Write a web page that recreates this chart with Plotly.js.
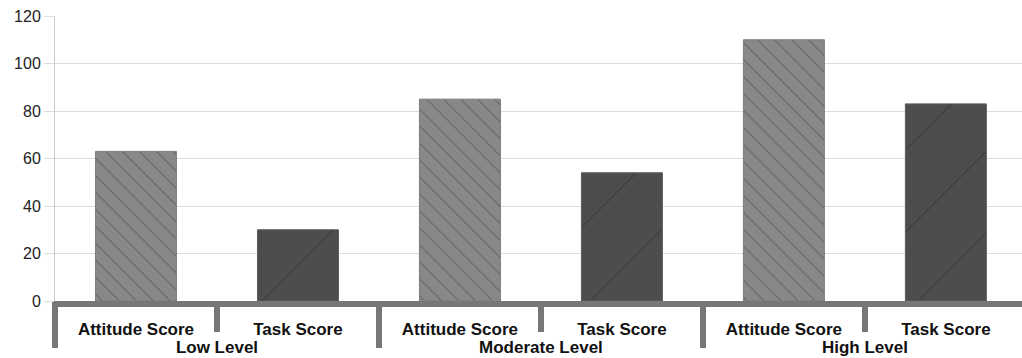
<!DOCTYPE html>
<html>
<head>
<meta charset="utf-8">
<script src="https://cdn.plot.ly/plotly-3.0.1.min.js"></script>
<style>
  html, body { margin: 0; padding: 0; background: #fff; }
  #chart { width: 1022px; height: 358px; }
</style>
</head>
<body>
<div id="chart"></div>
<script>
// Groups and the two scores shown inside each group
const levels = ["Low Level", "Moderate Level", "High Level"];
const metrics = ["Attitude Score", "Task Score"];
const attitudeScores = [63, 85, 110];
const taskScores = [30, 54, 83];
const yTicks = [0, 20, 40, 60, 80, 100, 120];

// Slot index of each bar along the x axis: one slot per metric inside each level
const n = metrics.length;
const slot = (levelIdx, metricIdx) => levelIdx * n + metricIdx;
const attitudeSlots = levels.map((_, i) => slot(i, 0));
const taskSlots = levels.map((_, i) => slot(i, 1));
const subTickVals = [], subTickText = [];
levels.forEach((_, i) => metrics.forEach((m, j) => { subTickVals.push(slot(i, j)); subTickText.push(m); }));
const groupCenters = levels.map((_, i) => slot(i, 0) + (n - 1) / 2);
const groupEdges = levels.map((_, i) => slot(i, 0) - 0.5).concat([levels.length * n - 0.5]);
const xRange = [-0.5, 5.47];

const labelFont = { size: 17, family: "Liberation Sans, Arial, sans-serif", color: "#111", weight: "bold" };

const attitudeTrace = {
  type: "bar",
  name: metrics[0],
  x: attitudeSlots,
  y: attitudeScores,
  width: 0.5,
  marker: {
    color: "#888888",
    line: { width: 1, color: "#7d7d7d" },
    pattern: { shape: "\\", size: 12, solidity: 0.08, fgcolor: "#555555", bgcolor: "#888888", fillmode: "replace" }
  },
  hoverinfo: "y"
};

const taskTrace = {
  type: "bar",
  name: metrics[1],
  x: taskSlots,
  y: taskScores,
  width: 0.5,
  marker: {
    color: "#4d4d4d",
    line: { width: 1, color: "#5c5c5c" },
    pattern: { shape: "/", size: 58, solidity: 0.017, fgcolor: "#333333", bgcolor: "#4d4d4d", fillmode: "replace" }
  },
  hoverinfo: "y"
};

// Empty carrier so the outer level axis (level names) gets drawn
const levelAxisTrace = {
  type: "scatter",
  mode: "none",
  x: groupCenters,
  y: levels.map(() => 0),
  xaxis: "x2",
  yaxis: "y",
  hoverinfo: "skip",
  showlegend: false
};

const layout = {
  width: 1022,
  height: 358,
  margin: { l: 55, r: 0, t: 16, b: 57 },
  paper_bgcolor: "#ffffff",
  plot_bgcolor: "#ffffff",
  showlegend: false,
  barmode: "overlay",
  font: { family: "Liberation Sans, Arial, sans-serif", color: "#111" },
  // Inner level: metric names, short separators between metrics
  xaxis: {
    range: xRange,
    tickmode: "array",
    tickvals: subTickVals,
    ticktext: subTickText,
    ticks: "",
    showline: true,
    linecolor: "#777777",
    linewidth: 6,
    showgrid: false,
    zeroline: false,
    ticklabelstandoff: 8,
    tickfont: labelFont,
    minor: { tickmode: "array", tickvals: groupCenters, ticks: "outside", ticklen: 25, tickwidth: 6, tickcolor: "#777777", showgrid: false }
  },
  // Outer level: level names, tall separators between levels
  xaxis2: {
    overlaying: "x",
    anchor: "y",
    side: "bottom",
    range: xRange,
    tickmode: "array",
    tickvals: groupCenters,
    ticktext: levels,
    ticks: "",
    showline: false,
    showgrid: false,
    zeroline: false,
    ticklabelstandoff: 34,
    tickfont: labelFont,
    minor: { tickmode: "array", tickvals: groupEdges, ticks: "outside", ticklen: 46, tickwidth: 6, tickcolor: "#777777", showgrid: false }
  },
  yaxis: {
    range: [0, 120],
    tickvals: yTicks,
    showgrid: true,
    gridcolor: "#dddddd",
    gridwidth: 1,
    zeroline: false,
    showline: true,
    linecolor: "#cccccc",
    linewidth: 1,
    ticks: "outside",
    ticklen: 10,
    tickcolor: "#dddddd",
    tickfont: { size: 16, color: "#222" }
  }
};

Plotly.newPlot("chart", [attitudeTrace, taskTrace, levelAxisTrace], layout, { displayModeBar: false, staticPlot: true });
</script>
</body>
</html>
